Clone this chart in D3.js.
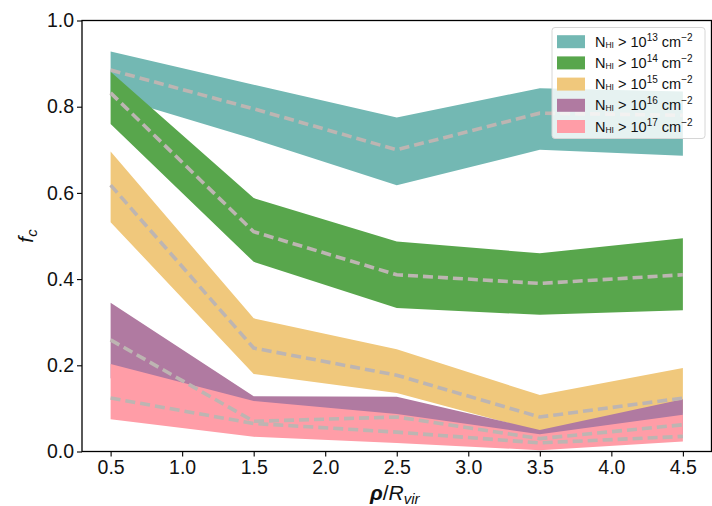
<!DOCTYPE html>
<html>
<head>
<meta charset="utf-8">
<script src="https://cdn.jsdelivr.net/npm/d3@7"></script>
<style>
  html, body { margin: 0; padding: 0; background: #fff; }
  svg { display: block; font-family: "Liberation Sans", Arial, sans-serif; }
</style>
</head>
<body>
<svg id="chart" width="712" height="506"></svg>
<script>
// Projected distance bins (rho / R_vir)
const radii = [0.5, 1.5, 2.5, 3.5, 4.5];
const xTicks = [0.5, 1.0, 1.5, 2.0, 2.5, 3.0, 3.5, 4.0, 4.5];
const yTicks = [0.0, 0.2, 0.4, 0.6, 0.8, 1.0];

// Covering fraction per column-density threshold: median, lower and upper bounds
const logN = [13, 14, 15, 16, 17];
const colors = ["#73b8b3", "#58a64c", "#f0c87c", "#b07aa1", "#ff9da7"];

const fc13Mid = [0.885, 0.795, 0.700, 0.785, 0.780];
const fc13Lo  = [0.825, 0.725, 0.618, 0.700, 0.686];
const fc13Hi  = [0.928, 0.851, 0.775, 0.843, 0.835];

const fc14Mid = [0.832, 0.510, 0.410, 0.390, 0.410];
const fc14Lo  = [0.760, 0.440, 0.333, 0.317, 0.328];
const fc14Hi  = [0.881, 0.588, 0.487, 0.460, 0.495];

const fc15Mid = [0.618, 0.240, 0.177, 0.080, 0.124];
const fc15Lo  = [0.532, 0.180, 0.136, 0.046, 0.090];
const fc15Hi  = [0.696, 0.309, 0.237, 0.131, 0.194];

const fc16Mid = [0.259, 0.070, 0.080, 0.030, 0.062];
const fc16Lo  = [0.170, 0.045, 0.045, 0.010, 0.040];
const fc16Hi  = [0.345, 0.128, 0.127, 0.050, 0.121];

const fc17Mid = [0.124, 0.065, 0.045, 0.020, 0.035];
const fc17Lo  = [0.075, 0.034, 0.020, 0.003, 0.023];
const fc17Hi  = [0.203, 0.117, 0.087, 0.040, 0.085];

const series = [
  { n: logN[0], color: colors[0], mid: fc13Mid, lo: fc13Lo, hi: fc13Hi },
  { n: logN[1], color: colors[1], mid: fc14Mid, lo: fc14Lo, hi: fc14Hi },
  { n: logN[2], color: colors[2], mid: fc15Mid, lo: fc15Lo, hi: fc15Hi },
  { n: logN[3], color: colors[3], mid: fc16Mid, lo: fc16Lo, hi: fc16Hi },
  { n: logN[4], color: colors[4], mid: fc17Mid, lo: fc17Lo, hi: fc17Hi }
];

const svg = d3.select("#chart");
const plot = { left: 82, right: 711.5, top: 20.5, bottom: 451.5 };

const x = d3.scaleLinear().domain([0.3, 4.7]).range([plot.left, plot.right]);
const y = d3.scaleLinear().domain([0, 1]).range([plot.bottom, plot.top]);

// Shaded ranges
const area = d3.area()
  .x((d, i) => x(radii[i]))
  .y0(d => y(d[0]))
  .y1(d => y(d[1]));

series.forEach(s => {
  const pts = radii.map((r, i) => [s.lo[i], s.hi[i]]);
  svg.append("path")
    .attr("d", area(pts))
    .attr("fill", s.color);
});

// Median curves, dashed, above all fills
const line = d3.line()
  .x((d, i) => x(radii[i]))
  .y(d => y(d));

series.forEach(s => {
  svg.append("path")
    .attr("d", line(s.mid))
    .attr("fill", "none")
    .attr("stroke", "#bdb5b2")
    .attr("stroke-width", 3.6)
    .attr("stroke-dasharray", "10,5");
});

// Axes
const xAxis = d3.axisBottom(x).tickValues(xTicks).tickFormat(d3.format(".1f")).tickSize(5).tickPadding(4);
const yAxis = d3.axisLeft(y).tickValues(yTicks).tickFormat(d3.format(".1f")).tickSize(5).tickPadding(3);

const gx = svg.append("g").attr("transform", `translate(0,${plot.bottom})`).call(xAxis);
const gy = svg.append("g").attr("transform", `translate(${plot.left},0)`).call(yAxis);
[gx, gy].forEach(g => {
  g.select(".domain").remove();
  g.selectAll(".tick line").attr("stroke", "#000").attr("stroke-width", 1.1);
  g.selectAll(".tick text").attr("fill", "#111").attr("font-size", 19.5)
    .attr("font-family", "'Liberation Sans', Arial, sans-serif");
});

// Frame
svg.append("rect")
  .attr("x", plot.left).attr("y", plot.top)
  .attr("width", plot.right - plot.left).attr("height", plot.bottom - plot.top)
  .attr("fill", "none").attr("stroke", "#000").attr("stroke-width", 1.3);

// Axis labels
const xl = svg.append("text")
  .attr("x", (plot.left + plot.right) / 2 - 2)
  .attr("y", 500)
  .attr("text-anchor", "middle")
  .attr("font-size", 21)
  .attr("fill", "#111");
xl.append("tspan").attr("font-weight", "bold").attr("font-style", "italic").text("ρ");
xl.append("tspan").text("/");
xl.append("tspan").attr("font-style", "italic").text("R");
xl.append("tspan").attr("font-style", "italic").attr("font-size", 15).attr("dy", 4).text("vir");

const yl = svg.append("text")
  .attr("transform", `translate(33,${(plot.top + plot.bottom) / 2}) rotate(-90)`)
  .attr("text-anchor", "middle")
  .attr("font-size", 21)
  .attr("fill", "#111");
yl.append("tspan").attr("font-style", "italic").text("f");
yl.append("tspan").attr("font-style", "italic").attr("font-size", 15).attr("dy", 4).text("c");

// Legend
const lg = svg.append("g");
lg.append("rect")
  .attr("x", 552).attr("y", 27.5)
  .attr("width", 153).attr("height", 111)
  .attr("rx", 3)
  .attr("fill", "#fff").attr("fill-opacity", 0.82)
  .attr("stroke", "#d6d6d6").attr("stroke-width", 1);

series.forEach((s, i) => {
  const cy = 41.7 + i * 21.2;
  lg.append("rect")
    .attr("x", 557).attr("y", cy - 6.5)
    .attr("width", 28).attr("height", 13)
    .attr("fill", s.color);
  const t = lg.append("text")
    .attr("x", 595).attr("y", cy + 5)
    .attr("font-size", 14.5)
    .attr("fill", "#111");
  t.append("tspan").text("N");
  t.append("tspan").attr("font-size", 8.5).attr("dy", 1).text("HI");
  t.append("tspan").attr("dy", -1).text(" > 10");
  t.append("tspan").attr("font-size", 10).attr("dy", -6).text(s.n);
  t.append("tspan").attr("dy", 6).text(" cm");
  t.append("tspan").attr("font-size", 10).attr("dy", -6).text("−2");
});
</script>
</body>
</html>
